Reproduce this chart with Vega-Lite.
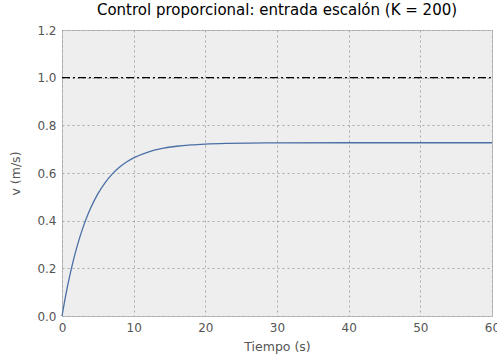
{
  "$schema": "https://vega.github.io/schema/vega-lite/v6.json",
  "width": 430,
  "height": 286,
  "autosize": {"type": "none"},
  "padding": {"left": 62, "top": 30, "right": 5, "bottom": 41},
  "title": {"text": "Control proporcional: entrada escalón (K = 200)", "font": "DejaVu Sans", "fontSize": 15, "fontWeight": "normal", "color": "#000", "offset": 6},
  "config": {
    "view": {"fill": "#eeeeee", "stroke": "#bcbcbc", "strokeWidth": 1},
    "axis": {
      "labelFont": "DejaVu Sans", "labelFontSize": 12, "labelColor": "#555",
      "titleFont": "DejaVu Sans", "titleFontSize": 12.5, "titleFontWeight": "normal", "titleColor": "#555",
      "ticks": false, "domain": false, "labelFlush": false,
      "grid": true, "gridColor": "#a8a8a8", "gridDash": [2, 3], "gridWidth": 1, "labelPadding": 6
    }
  },
  "datasets": {
    "resp": [
      {"t": 0, "v": 0},
      {"t": 0.5, "v": 0.0836},
      {"t": 1, "v": 0.1574},
      {"t": 1.5, "v": 0.2228},
      {"t": 2, "v": 0.2806},
      {"t": 2.5, "v": 0.3319},
      {"t": 3, "v": 0.3772},
      {"t": 3.5, "v": 0.4174},
      {"t": 4, "v": 0.4529},
      {"t": 5, "v": 0.5122},
      {"t": 6, "v": 0.5588},
      {"t": 7, "v": 0.5952},
      {"t": 8, "v": 0.6237},
      {"t": 9, "v": 0.646},
      {"t": 10, "v": 0.6635},
      {"t": 12, "v": 0.688},
      {"t": 14, "v": 0.7031},
      {"t": 16, "v": 0.7123},
      {"t": 18, "v": 0.718},
      {"t": 20, "v": 0.7215},
      {"t": 23, "v": 0.7243},
      {"t": 26, "v": 0.7257},
      {"t": 30, "v": 0.7265},
      {"t": 40, "v": 0.727},
      {"t": 50, "v": 0.727},
      {"t": 60, "v": 0.727}
    ],
    "ref": [{"t": 0, "v": 1}, {"t": 60, "v": 1}]
  },
  "layer": [
    {
      "data": {"name": "ref"},
      "mark": {"type": "line", "color": "#000", "strokeWidth": 1.3, "strokeDash": [8, 3, 2, 3], "clip": true},
      "encoding": {
        "x": {"field": "t", "type": "quantitative", "scale": {"domain": [0, 60], "nice": false, "zero": false}, "axis": {"values": [0, 10, 20, 30, 40, 50, 60], "title": "Tiempo (s)", "titlePadding": 7}},
        "y": {"field": "v", "type": "quantitative", "scale": {"domain": [0, 1.2], "nice": false}, "axis": {"values": [0, 0.2, 0.4, 0.6, 0.8, 1.0, 1.2], "format": ".1f", "title": "v (m/s)", "titlePadding": 14}}
      }
    },
    {
      "data": {"name": "resp"},
      "mark": {"type": "line", "color": "#4a6fa5", "strokeWidth": 1.3, "interpolate": "monotone"},
      "encoding": {
        "x": {"field": "t", "type": "quantitative"},
        "y": {"field": "v", "type": "quantitative"}
      }
    }
  ]
}
